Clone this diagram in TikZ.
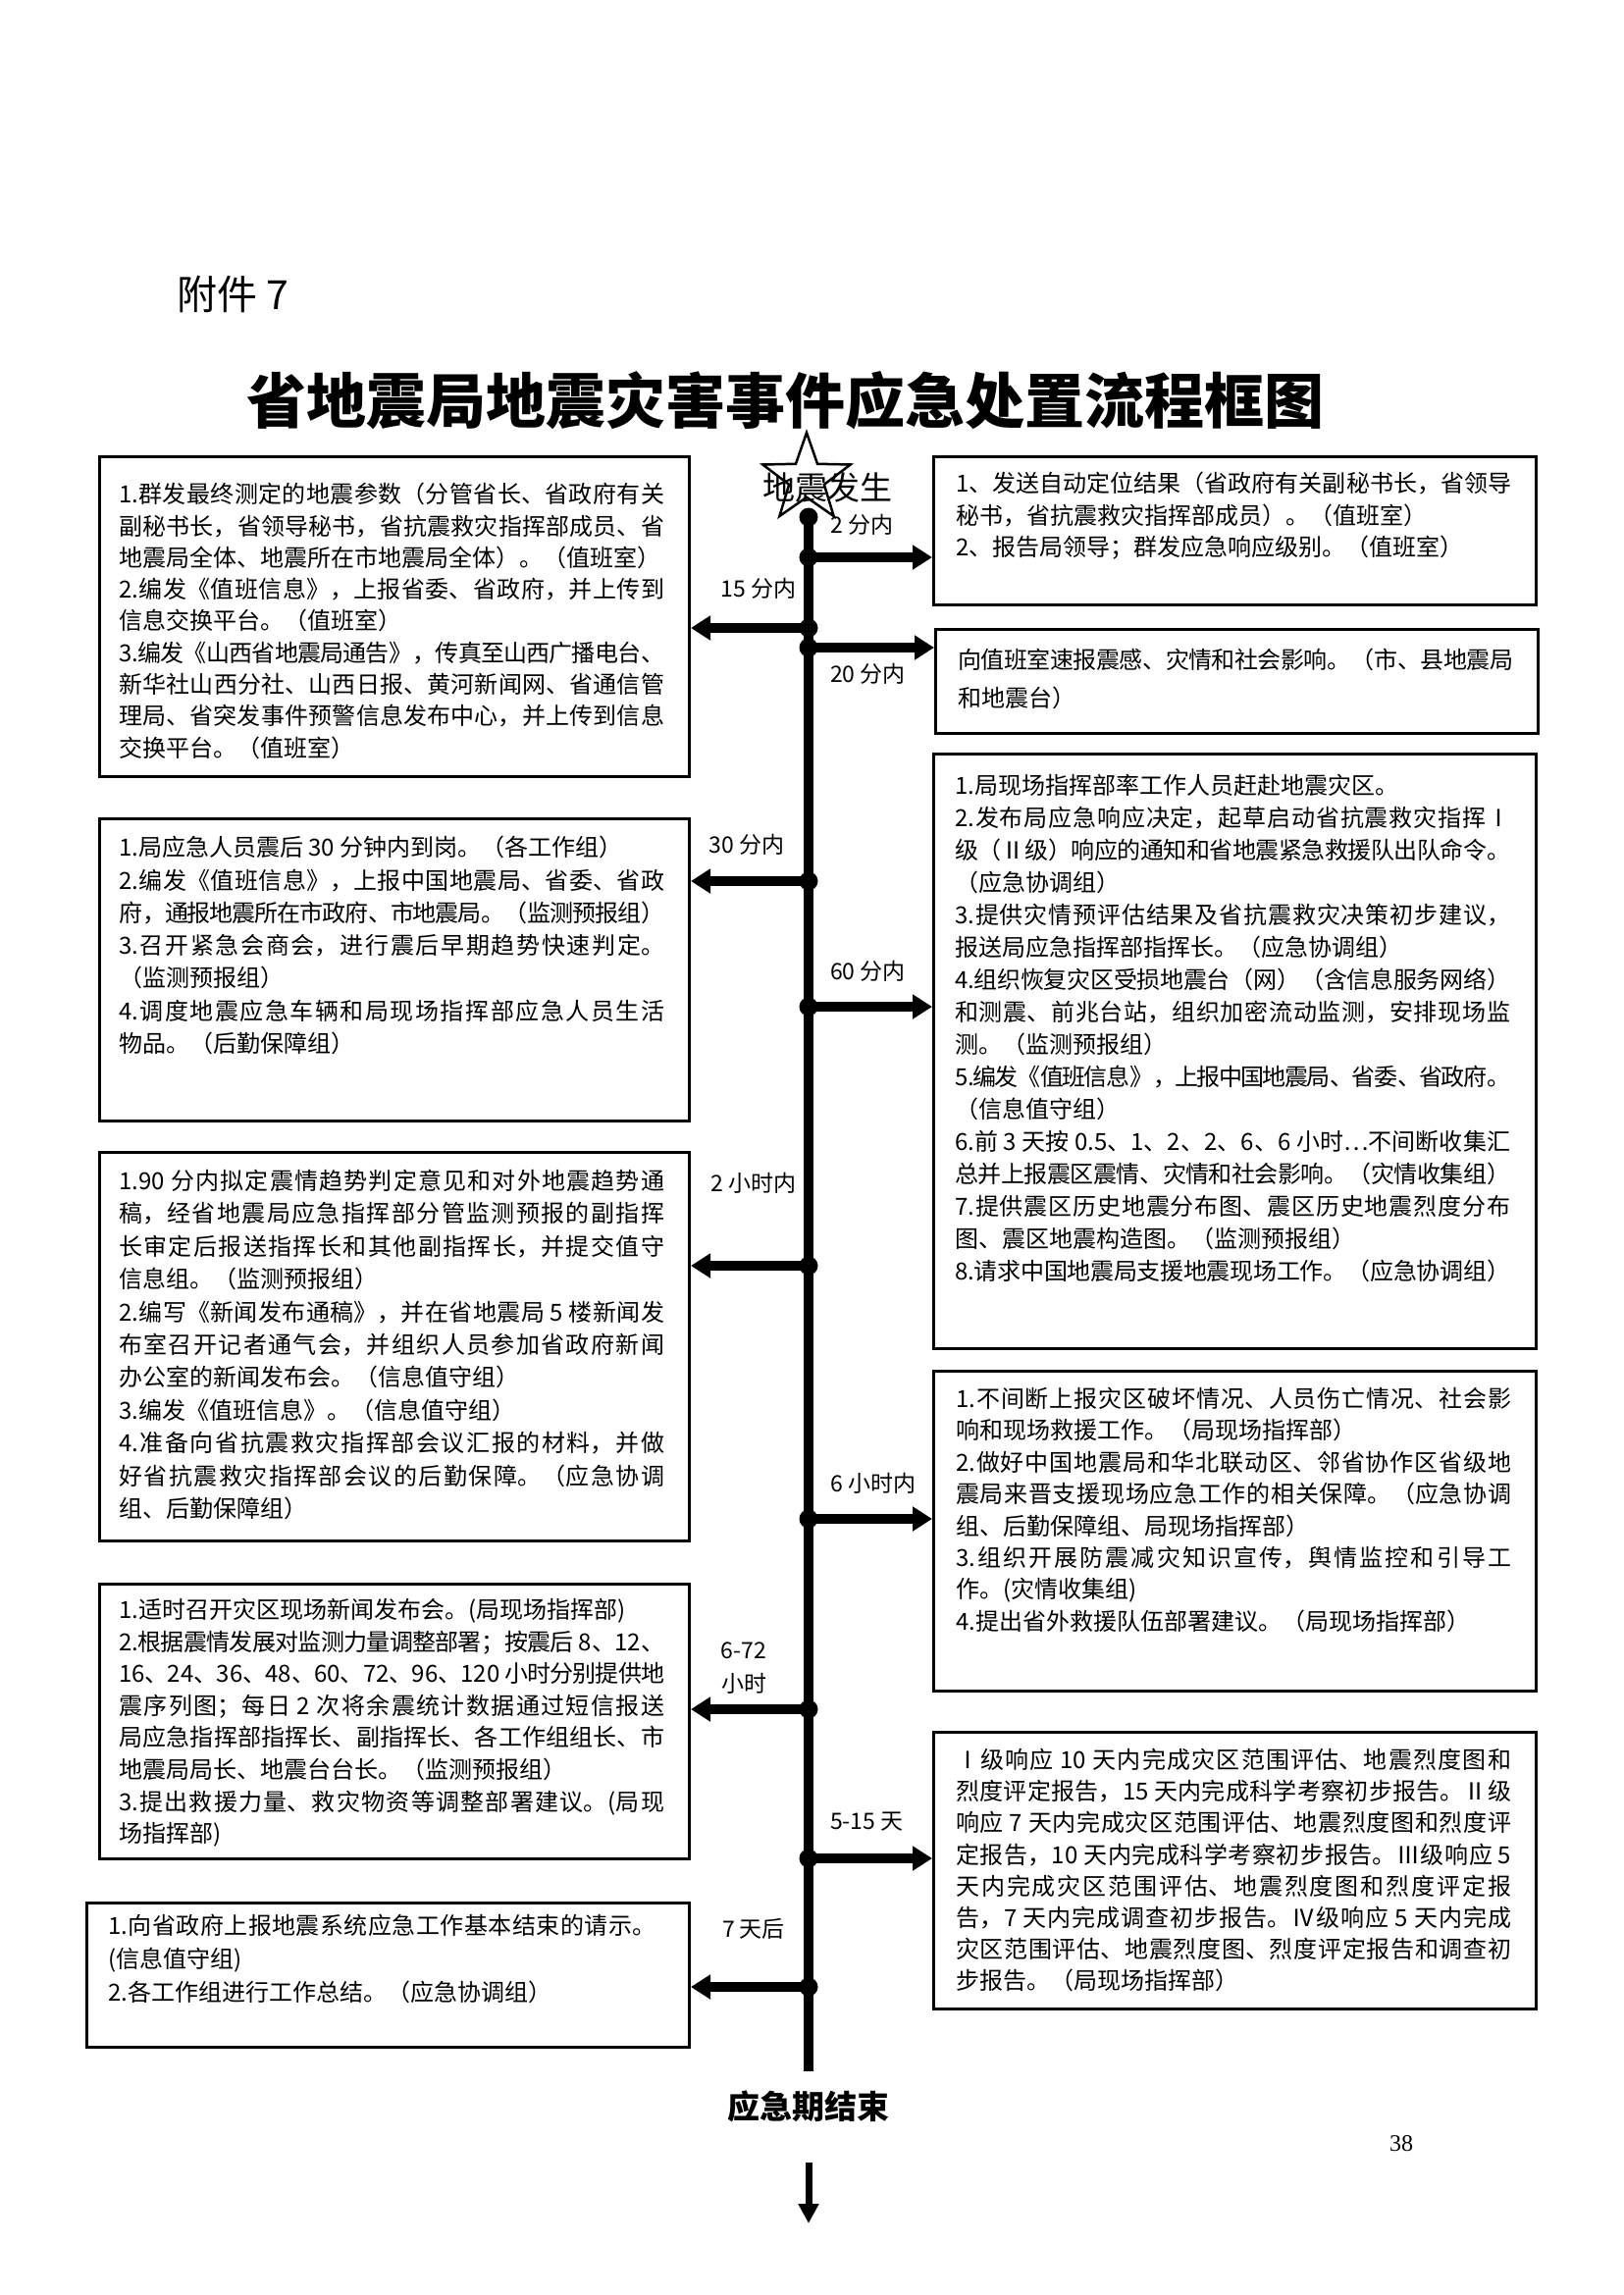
\documentclass[tikz,border=0pt]{standalone}
\usepackage{fontspec}
\setmainfont{Noto Sans CJK SC}
\newfontfamily\serifnum{Liberation Serif}
\usetikzlibrary{arrows.meta,shapes.geometric,calc}
\XeTeXlinebreaklocale "zh"
\XeTeXlinebreakskip=0pt plus 3pt minus 3pt
\setlength{\parindent}{0pt}
\tolerance=3000
\begin{document}
\begin{tikzpicture}[x=1pt,y=-1pt,
 box/.style={draw, line width=3pt, anchor=north west, inner sep=0pt},
 txt/.style={anchor=north west, inner sep=0pt, align=justify},
 lab/.style={inner sep=0pt, font=\fontsize{23}{34}\selectfont},
 spineline/.style={line width=9.5pt},
 arr/.style={line width=9.5pt, -{Triangle[length=20pt,width=24pt]}},
 endarr/.style={line width=7pt, -{Triangle[length=20pt,width=20pt]}},
 jdot/.style={circle, fill=black, inner sep=0pt, minimum size=19pt},
]
\fill[white] (0,0) rectangle (1654,2339);
\useasboundingbox (0,0) rectangle (1654,2339);

% headings
\node[anchor=west, inner sep=0pt, font=\fontsize{41}{48}\selectfont] (annex) at (180,300) {附件 7};
\node[inner sep=0pt, font=\bfseries\fontsize{61}{70}\selectfont] (title) at (800,408) {省地震局地震灾害事件应急处置流程框图};

% boxes
\node[box, minimum width=601pt, minimum height=326pt] (L1) at (100,464) {};
\node[box, minimum width=614pt, minimum height=151pt] (R1) at (950,464) {};
\node[box, minimum width=614pt, minimum height=106pt] (R2) at (952,640) {};
\node[box, minimum width=601pt, minimum height=308pt] (L2) at (100,833) {};
\node[box, minimum width=614pt, minimum height=606pt] (R3) at (950,767) {};
\node[box, minimum width=601pt, minimum height=396pt] (L3) at (100,1173) {};
\node[box, minimum width=614pt, minimum height=326pt] (R4) at (950,1396) {};
\node[box, minimum width=601pt, minimum height=280pt] (L4) at (100,1613) {};
\node[box, minimum width=614pt, minimum height=282pt] (R5) at (950,1764) {};
\node[box, minimum width=614pt, minimum height=147pt] (L5) at (87,1938) {};

% texts
\node[txt, text width=556pt, font=\fontsize{24}{32.3}\selectfont] (L1t) at ($(L1.north west)+(21,28)$) {%
1.群发最终测定的地震参数（分管省长、省政府有关\linebreak
副秘书长，省领导秘书，省抗震救灾指挥部成员、省\linebreak
地震局全体、地震所在市地震局全体）。（值班室）\par
2.编发《值班信息》，上报省委、省政府，并上传到\linebreak
信息交换平台。（值班室）\par
3.编发《山西省地震局通告》，传真至山西广播电台、\linebreak
新华社山西分社、山西日报、黄河新闻网、省通信管\linebreak
理局、省突发事件预警信息发布中心，并上传到信息\linebreak
交换平台。（值班室）};

\node[txt, text width=566pt, font=\fontsize{24}{32.5}\selectfont] (R1t) at ($(R1.north west)+(24,17)$) {%
1、发送自动定位结果（省政府有关副秘书长，省领导\linebreak
秘书，省抗震救灾指挥部成员）。（值班室）\par
2、报告局领导；群发应急响应级别。（值班室）};

\node[txt, text width=566pt, font=\fontsize{24}{39}\selectfont] (R2t) at ($(R2.north west)+(24,21)$) {%
向值班室速报震感、灾情和社会影响。（市、县地震局\linebreak
和地震台）};

\node[txt, text width=556pt, font=\fontsize{24}{33.3}\selectfont] (L2t) at ($(L2.north west)+(21,19)$) {%
1.局应急人员震后 30 分钟内到岗。（各工作组）\par
2.编发《值班信息》，上报中国地震局、省委、省政\linebreak
府，通报地震所在市政府、市地震局。（监测预报组）\par
3.召开紧急会商会，进行震后早期趋势快速判定。\linebreak
（监测预报组）\par
4.调度地震应急车辆和局现场指挥部应急人员生活\linebreak
物品。（后勤保障组）};

\node[txt, text width=566pt, font=\fontsize{24}{33}\selectfont] (R3t) at ($(R3.north west)+(23,22)$) {%
1.局现场指挥部率工作人员赶赴地震灾区。\par
2.发布局应急响应决定，起草启动省抗震救灾指挥Ⅰ\linebreak
级（Ⅱ级）响应的通知和省地震紧急救援队出队命令。\linebreak
（应急协调组）\par
3.提供灾情预评估结果及省抗震救灾决策初步建议，\linebreak
报送局应急指挥部指挥长。（应急协调组）\par
4.组织恢复灾区受损地震台（网）（含信息服务网络）\linebreak
和测震、前兆台站，组织加密流动监测，安排现场监\linebreak
测。（监测预报组）\par
5.编发《值班信息》，上报中国地震局、省委、省政府。\linebreak
（信息值守组）\par
6.前 3 天按 0.5、1、2、2、6、6 小时…不间断收集汇\linebreak
总并上报震区震情、灾情和社会影响。（灾情收集组）\par
7.提供震区历史地震分布图、震区历史地震烈度分布\linebreak
图、震区地震构造图。（监测预报组）\par
8.请求中国地震局支援地震现场工作。（应急协调组）};

\node[txt, text width=556pt, font=\fontsize{24}{33.4}\selectfont] (L3t) at ($(L3.north west)+(21,19)$) {%
1.90 分内拟定震情趋势判定意见和对外地震趋势通\linebreak
稿，经省地震局应急指挥部分管监测预报的副指挥\linebreak
长审定后报送指挥长和其他副指挥长，并提交值守\linebreak
信息组。（监测预报组）\par
2.编写《新闻发布通稿》，并在省地震局 5 楼新闻发\linebreak
布室召开记者通气会，并组织人员参加省政府新闻\linebreak
办公室的新闻发布会。（信息值守组）\par
3.编发《值班信息》。（信息值守组）\par
4.准备向省抗震救灾指挥部会议汇报的材料，并做\linebreak
好省抗震救灾指挥部会议的后勤保障。（应急协调\linebreak
组、后勤保障组）};

\node[txt, text width=566pt, font=\fontsize{24}{32.4}\selectfont] (R4t) at ($(R4.north west)+(24,18)$) {%
1.不间断上报灾区破坏情况、人员伤亡情况、社会影\linebreak
响和现场救援工作。（局现场指挥部）\par
2.做好中国地震局和华北联动区、邻省协作区省级地\linebreak
震局来晋支援现场应急工作的相关保障。（应急协调\linebreak
组、后勤保障组、局现场指挥部）\par
3.组织开展防震减灾知识宣传，舆情监控和引导工\linebreak
作。(灾情收集组)\par
4.提出省外救援队伍部署建议。（局现场指挥部）};

\node[txt, text width=556pt, font=\fontsize{24}{32.6}\selectfont] (L4t) at ($(L4.north west)+(21,16)$) {%
1.适时召开灾区现场新闻发布会。(局现场指挥部)\par
2.根据震情发展对监测力量调整部署；按震后 8、12、\linebreak
16、24、36、48、60、72、96、120 小时分别提供地\linebreak
震序列图；每日 2 次将余震统计数据通过短信报送\linebreak
局应急指挥部指挥长、副指挥长、各工作组组长、市\linebreak
地震局局长、地震台台长。（监测预报组）\par
3.提出救援力量、救灾物资等调整部署建议。(局现\linebreak
场指挥部)};

\node[txt, text width=566pt, font=\fontsize{24}{32.2}\selectfont] (R5t) at ($(R5.north west)+(24,18)$) {%
Ⅰ级响应 10 天内完成灾区范围评估、地震烈度图和\linebreak
烈度评定报告，15 天内完成科学考察初步报告。Ⅱ级\linebreak
响应 7 天内完成灾区范围评估、地震烈度图和烈度评\linebreak
定报告，10 天内完成科学考察初步报告。Ⅲ级响应 5\linebreak
天内完成灾区范围评估、地震烈度图和烈度评定报\linebreak
告，7 天内完成调查初步报告。Ⅳ级响应 5 天内完成\linebreak
灾区范围评估、地震烈度图、烈度评定报告和调查初\linebreak
步报告。（局现场指挥部）};

\node[txt, text width=558pt, font=\fontsize{24}{34}\selectfont] (L5t) at ($(L5.north west)+(23,13)$) {%
1.向省政府上报地震系统应急工作基本结束的请示。\linebreak
(信息值守组)\par
2.各工作组进行工作总结。（应急协调组）};

% start star and label
\node[star, star points=5, star point ratio=2.5, draw, line width=2.5pt, minimum size=94pt, inner sep=0pt] (star) at (822,488) {};
\node[inner sep=0pt, font=\fontsize{33}{40}\selectfont] (quake) at (843,497) {地震发生};

% end label
\node[inner xsep=0pt, inner ysep=20pt, font=\bfseries\fontsize{33}{40}\selectfont] (end) at (824,2147) {应急期结束};
\coordinate (endtip) at (824,2266);

% spine
\coordinate (top) at (824,527);
\draw[spineline] (top) -- (end.north);
\draw[endarr, shorten <=21pt] (end.south) -- (endtip);

% junctions
\coordinate (j1) at (824,568);
\coordinate (j2) at (824,640);
\coordinate (j3) at (824,660);
\coordinate (j4) at (824,898);
\coordinate (j5) at (824,1026);
\coordinate (j6) at (824,1290);
\coordinate (j7) at (824,1548);
\coordinate (j8) at (824,1742);
\coordinate (j9) at (824,1894);
\coordinate (j10) at (824,2025);

\draw[arr] (j1) -- (j1 -| R1.west);
\draw[arr] (j2) -- (j2 -| L1.east);
\draw[arr] (j3) -- (j3 -| R2.west);
\draw[arr] (j4) -- (j4 -| L2.east);
\draw[arr] (j5) -- (j5 -| R3.west);
\draw[arr] (j6) -- (j6 -| L3.east);
\draw[arr] (j7) -- (j7 -| R4.west);
\draw[arr] (j8) -- (j8 -| L4.east);
\draw[arr] (j9) -- (j9 -| R5.west);
\draw[arr] (j10) -- (j10 -| L5.east);

\node[jdot] (d0) at (top) {};
\foreach \j in {1,...,10} { \node[jdot] (d\j) at (j\j) {}; }

% time labels
\node[lab, anchor=west] (t2) at (846,535) {2 分内};
\node[lab] (t15) at (773,600) {15 分内};
\node[lab, anchor=west] (t20) at (846,687) {20 分内};
\node[lab] (t30) at (761,861) {30 分内};
\node[lab, anchor=west] (t60) at (846,990) {60 分内};
\node[lab] (t2h) at (768,1206) {2 小时内};
\node[lab, anchor=west] (t6h) at (846,1512) {6 小时内};
\node[lab, align=center] (t672) at (758,1700) {6-72\\小时};
\node[lab, anchor=west] (t515) at (846,1857) {5-15 天};
\node[lab] (t7d) at (768,1966) {7 天后};

% page number
\node[inner sep=0pt, font=\serifnum\fontsize{24}{28}\selectfont] (pg) at (1428,2185) {38};
\end{tikzpicture}
\end{document}
